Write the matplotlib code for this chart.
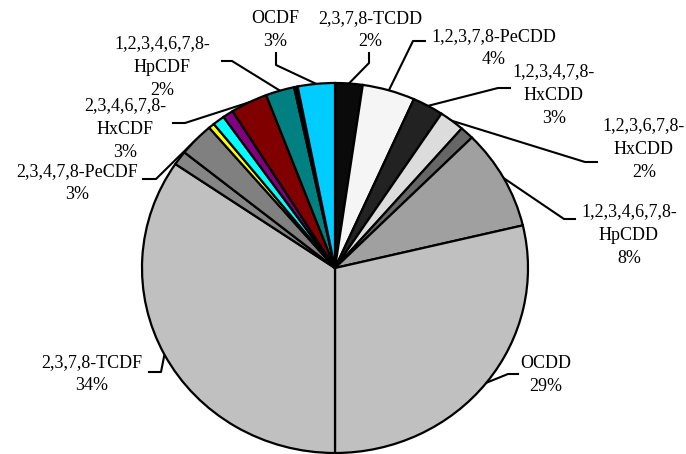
import numpy as np
import matplotlib
matplotlib.use("Agg")
import matplotlib.pyplot as plt

plt.rcParams['font.family'] = ['Liberation Serif', 'DejaVu Serif']

# congeners in clockwise order starting at 12 o'clock
congeners = [
    "2,3,7,8-TCDD", "1,2,3,7,8-PeCDD", "1,2,3,4,7,8-HxCDD", "1,2,3,6,7,8-HxCDD",
    "1,2,3,7,8,9-HxCDD", "1,2,3,4,6,7,8-HpCDD", "OCDD", "2,3,7,8-TCDF",
    "1,2,3,7,8-PeCDF", "2,3,4,7,8-PeCDF", "1,2,3,4,7,8-HxCDF", "1,2,3,6,7,8-HxCDF",
    "1,2,3,7,8,9-HxCDF", "2,3,4,6,7,8-HxCDF", "1,2,3,4,6,7,8-HpCDF",
    "1,2,3,4,7,8,9-HpCDF", "OCDF",
]
shares = [2.3, 4.4, 2.6, 2.1, 1.15, 8.75, 28.7, 34.5,
          1.25, 2.95, 0.5, 1.0, 0.9, 3.1, 2.4, 0.3, 3.1]
label_text = [
    "2,3,7,8-TCDD\n2%", "1,2,3,7,8-PeCDD\n4%", "1,2,3,4,7,8-\nHxCDD\n3%",
    "1,2,3,6,7,8-\nHxCDD\n2%", "", "1,2,3,4,6,7,8-\nHpCDD\n8%", "OCDD\n29%",
    "2,3,7,8-TCDF\n34%", "", "2,3,4,7,8-PeCDF\n3%", "", "", "",
    "2,3,4,6,7,8-\nHxCDF\n3%", "1,2,3,4,6,7,8-\nHpCDF\n2%", "", "OCDF\n3%",
]
colors = ["#0a0a0a", "#f5f5f5", "#222222", "#dcdcdc", "#666666", "#a0a0a0",
          "#c0c0c0", "#c0c0c0", "#858585", "#808080", "#ffff00", "#00ffff",
          "#800080", "#800000", "#008080", "#000000", "#00ccff"]

# layout in pixels: text centre, leader start, leader elbow
W, H = 686, 454
CX, CY, RX, RY = 335, 268, 193, 185
layout = {
    "2,3,7,8-TCDD": ((370, 30), (369, 53), (369, 63)),
    "1,2,3,7,8-PeCDD": ((494, 48), (425, 41), (413, 41)),
    "1,2,3,4,7,8-HxCDD": ((554, 95), (510, 88), (498, 88)),
    "1,2,3,6,7,8-HxCDD": ((644, 149), (597, 162), (585, 162)),
    "1,2,3,4,6,7,8-HpCDD": ((629, 235), (575, 219), (564, 219)),
    "OCDD": ((546, 375), (518, 374), (508, 374)),
    "2,3,7,8-TCDF": ((92, 374), (149, 372), (161, 372)),
    "2,3,4,7,8-PeCDF": ((77, 183), (143, 179), (156, 179)),
    "2,3,4,6,7,8-HxCDF": ((125, 129), (173, 123), (185, 123)),
    "1,2,3,4,6,7,8-HpCDF": ((162, 67), (222, 61), (232, 61)),
    "OCDF": ((275, 30), (276, 53), (276, 65)),
}


def px(x, y):
    return (x - CX) / RX, (CY - y) / RY


fig = plt.figure(figsize=(W / 100, H / 100), dpi=100)
ax = fig.add_axes([0, 0, 1, 1])

wedges, _ = ax.pie(shares, colors=colors, startangle=90, counterclock=False,
                   wedgeprops=dict(edgecolor="black", linewidth=1.6))

for w, name, txt in zip(wedges, congeners, label_text):
    if not txt:
        continue
    (tx, ty), start, elbow = layout[name]
    mid = np.deg2rad((w.theta1 + w.theta2) / 2)
    anchor = (np.cos(mid), np.sin(mid))
    p0, p1 = px(*start), px(*elbow)
    ax.plot([p0[0], p1[0], anchor[0]], [p0[1], p1[1], anchor[1]],
            color="black", lw=1.5, zorder=0)
    x, y = px(tx, ty)
    ax.text(x, y, txt, ha="center", va="center", multialignment="center",
            fontsize=13, linespacing=1.5)

ax.set_aspect("auto")
ax.set_xlim(-CX / RX, (W - CX) / RX)
ax.set_ylim((CY - H) / RY, CY / RY)
ax.axis("off")

fig.savefig("out.png", dpi=100)
